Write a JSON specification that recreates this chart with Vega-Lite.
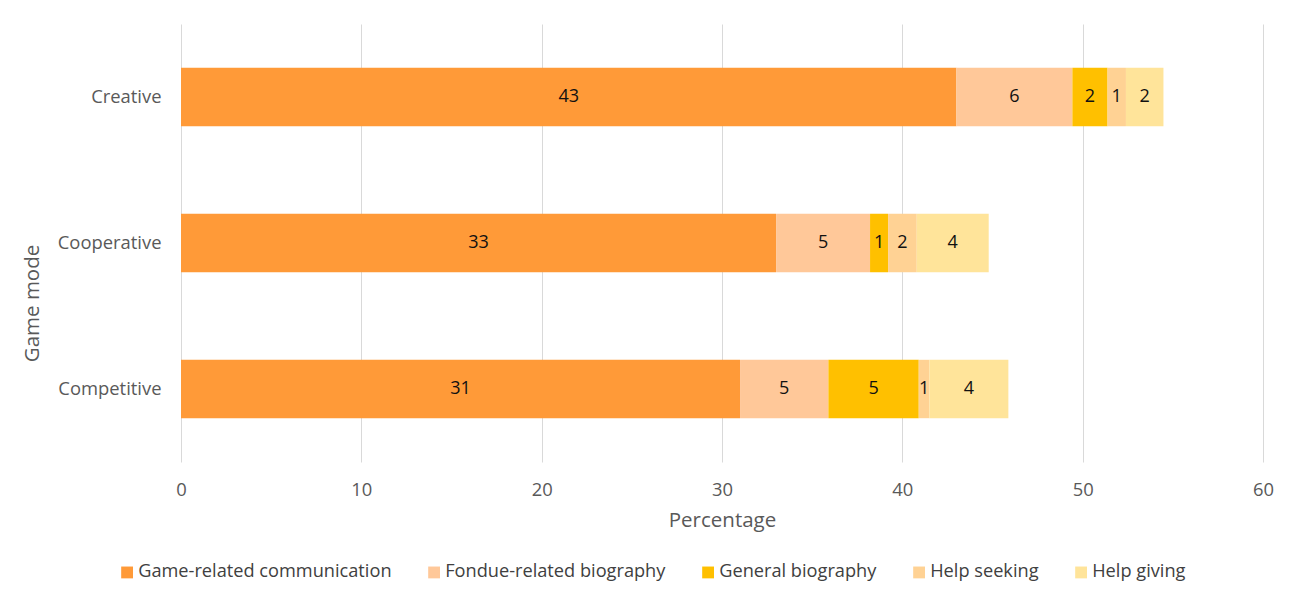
{
  "$schema": "https://vega.github.io/schema/vega-lite/v6.json",
  "width": 1082,
  "height": 438,
  "autosize": {"type": "none"},
  "padding": {"left": 181, "top": 24, "right": 26, "bottom": 130},
  "background": "white",
  "config": {"font": "Open Sans", "view": {"stroke": null}},
  "data": {
    "values": [
      {"mode": "Creative", "category": "Game-related communication", "k": 1, "value": 43.0},
      {"mode": "Creative", "category": "Fondue-related biography", "k": 2, "value": 6.43},
      {"mode": "Creative", "category": "General biography", "k": 3, "value": 1.95},
      {"mode": "Creative", "category": "Help seeking", "k": 4, "value": 1.02},
      {"mode": "Creative", "category": "Help giving", "k": 5, "value": 2.08},
      {"mode": "Cooperative", "category": "Game-related communication", "k": 1, "value": 33.0},
      {"mode": "Cooperative", "category": "Fondue-related biography", "k": 2, "value": 5.21},
      {"mode": "Cooperative", "category": "General biography", "k": 3, "value": 1.0},
      {"mode": "Cooperative", "category": "Help seeking", "k": 4, "value": 1.59},
      {"mode": "Cooperative", "category": "Help giving", "k": 5, "value": 3.99},
      {"mode": "Competitive", "category": "Game-related communication", "k": 1, "value": 31.0},
      {"mode": "Competitive", "category": "Fondue-related biography", "k": 2, "value": 4.9},
      {"mode": "Competitive", "category": "General biography", "k": 3, "value": 5.01},
      {"mode": "Competitive", "category": "Help seeking", "k": 4, "value": 0.59},
      {"mode": "Competitive", "category": "Help giving", "k": 5, "value": 4.38}
    ]
  },
  "transform": [
    {"stack": "value", "groupby": ["mode"], "sort": [{"field": "k", "order": "ascending"}], "as": ["v0", "v1"]},
    {"calculate": "(datum.v0 + datum.v1) / 2", "as": "mid"}
  ],
  "encoding": {
    "y": {
      "field": "mode",
      "type": "nominal",
      "sort": ["Creative", "Cooperative", "Competitive"],
      "scale": {"paddingInner": 0.6, "paddingOuter": 0.3},
      "axis": {
        "title": "Game mode",
        "titleFontSize": 20.5,
        "titleFontWeight": "normal",
        "titleColor": "#595959",
        "titleX": -149,
        "titleY": 279,
        "titleAngle": -90,
        "titleAlign": "center",
        "titleBaseline": "middle",
        "labelFontSize": 18.4,
        "labelColor": "#595959",
        "labelPadding": 20,
        "domain": false,
        "ticks": false
      }
    }
  },
  "layer": [
    {
      "mark": {"type": "bar"},
      "encoding": {
        "x": {
          "field": "v0",
          "type": "quantitative",
          "scale": {"domain": [0, 60], "nice": false},
          "axis": {
            "title": "Percentage",
            "values": [0, 10, 20, 30, 40, 50, 60],
            "titleFontSize": 20.5,
            "titleFontWeight": "normal",
            "titleColor": "#595959",
            "titlePadding": 12,
            "labelFontSize": 18.4,
            "labelColor": "#595959",
            "labelPadding": 18,
            "labelFlush": false,
            "domain": false,
            "ticks": false,
            "grid": true,
            "gridColor": "#d9d9d9",
            "gridWidth": 1
          }
        },
        "x2": {"field": "v1"},
        "color": {
          "field": "category",
          "type": "nominal",
          "scale": {
            "domain": ["Game-related communication", "Fondue-related biography", "General biography", "Help seeking", "Help giving"],
            "range": ["#FF9A38", "#FFC899", "#FFC000", "#FFD294", "#FFE49A"]
          },
          "legend": {
            "orient": "none",
            "legendX": -63,
            "legendY": 539,
            "direction": "horizontal",
            "columns": 5,
            "title": null,
            "symbolType": "square",
            "symbolSize": 140,
            "symbolStrokeWidth": 0,
            "labelFontSize": 18.2,
            "labelColor": "#404040",
            "labelOffset": 2,
            "columnPadding": 33,
            "labelLimit": 400
          }
        }
      }
    },
    {
      "mark": {"type": "text", "fontSize": 18, "color": "#111111", "baseline": "middle", "align": "center"},
      "encoding": {
        "x": {"field": "mid", "type": "quantitative"},
        "text": {"field": "value", "type": "quantitative", "format": ".0f"}
      }
    }
  ]
}
